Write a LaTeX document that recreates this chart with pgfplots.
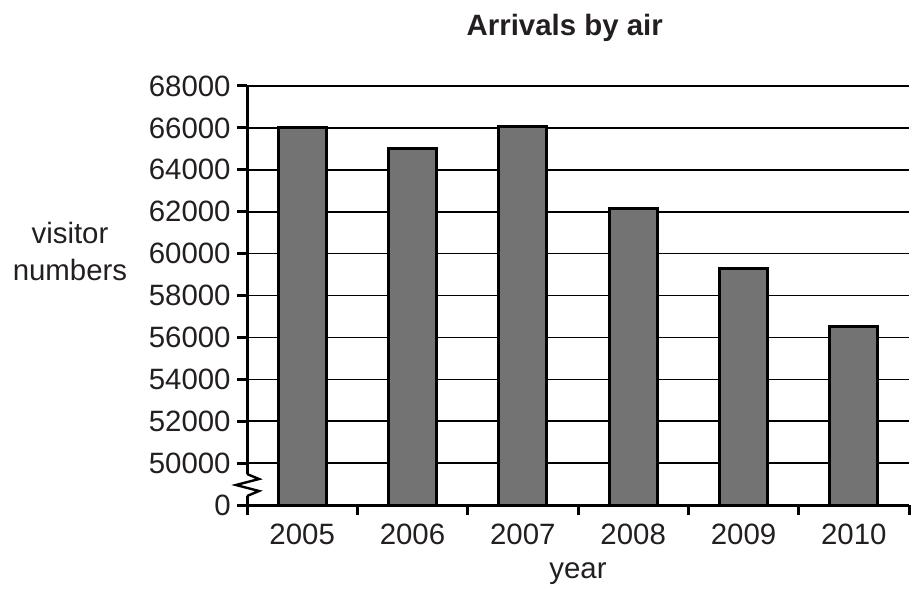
\documentclass[border=0pt]{standalone}
\usepackage{pgfplots}
\pgfplotsset{compat=1.18}
\usepackage{fontspec}
\setmainfont{Liberation Sans}
\definecolor{barfill}{HTML}{737373}
\definecolor{txt}{HTML}{231F20}
\begin{document}
\fontsize{14.7bp}{18.5bp}\selectfont
\begin{tikzpicture}
\begin{axis}[
  name=ax,
  scale only axis,
  width=331bp, height=209.5bp,
  xmin=-0.5, xmax=5.5,
  ymin=48000, ymax=68000,
  axis x line*=bottom, axis y line*=left,
  axis line style={line width=1.5bp, -, black},
  scaled y ticks=false,
  ytick={48000,50000,52000,54000,56000,58000,60000,62000,64000,66000,68000},
  yticklabels={0,50000,52000,54000,56000,58000,60000,62000,64000,66000,68000},
  ymajorgrids,
  grid style={line width=0.8bp, black},
  xtick={-0.5,0.5,1.5,2.5,3.5,4.5,5.5},
  xticklabels={},
  extra x ticks={0,1,2,3,4,5},
  extra x tick labels={2005,2006,2007,2008,2009,2010},
  extra x tick style={major tick length=0pt, grid=none},
  tick align=outside,
  major tick length=5bp,
  tick style={line width=1.5bp, black},
  xticklabel style={anchor=base, inner sep=0pt, yshift=-19.5bp, text=txt},
  yticklabel style={anchor=east, inner sep=0pt, xshift=-3bp, text=txt},
  title={\bfseries Arrivals by air},
  title style={at={(0.48,1)}, anchor=base, yshift=19.5bp, inner sep=0pt, text=txt},
  xlabel={year},
  xlabel style={at={(0.5,0)}, anchor=base, yshift=-36.5bp, inner sep=0pt, text=txt},
  clip=false,
]
\addplot[ybar, bar width=0.435, fill=barfill, draw=black, line width=1.5bp]
  coordinates {(0,66000) (1,65000) (2,66050) (3,62150) (4,59280) (5,56530)};
\node[align=center, text=txt, inner sep=0pt] at (rel axis cs:0,0.606) [xshift=-88.5bp] {visitor\\numbers};
\end{axis}
\draw[white, line width=3bp] ([yshift=4.5bp]ax.south west) -- ([yshift=15.5bp]ax.south west);
\draw[black, line width=1.2bp, line join=miter] ([yshift=15.5bp]ax.south west) -- ++(6bp,-2.5bp) -- ++(-11.5bp,-3bp) -- ++(11.5bp,-3bp) -- ++(-6bp,-2.5bp);
\pgfresetboundingbox
\path[use as bounding box] ([shift={(-123.5bp,-44bp)}]ax.south west) rectangle ([shift={(1bp,43bp)}]ax.north east);
\end{tikzpicture}
\end{document}
